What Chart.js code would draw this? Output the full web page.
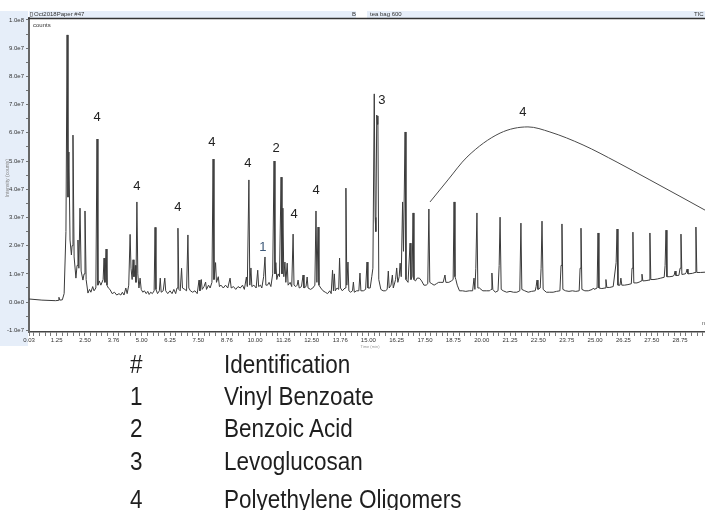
<!DOCTYPE html>
<html>
<head>
<meta charset="utf-8">
<script src="https://cdn.jsdelivr.net/npm/chart.js@4.4.1/dist/chart.umd.min.js"></script>
<style>
  html, body { margin: 0; padding: 0; background: #fff; }
  body { width: 705px; height: 510px; position: relative; overflow: hidden; }
  #tic { position: absolute; left: 0; top: 0; }
  .cell { position: absolute; font-family: "Liberation Sans", Arial, sans-serif; font-size: 22.5px; line-height: 1;
          color: #1e1e1e; white-space: nowrap; transform: scaleY(1.12); transform-origin: left center; }
</style>
</head>
<body>
<canvas id="tic" width="705" height="352"></canvas>
<div id="ids"></div>
<script>

// TIC trace: [retention time (min), intensity (x1e7 counts)]
const trace = [
  [0.03,0.11],[0.60,0.07],[1.20,0.05],[1.32,0.06],[1.35,0.17],[1.39,0.07],[1.50,0.08],[1.58,0.30],
  [1.66,2.50],[1.71,9.47],[1.75,3.72],[1.79,5.32],[1.84,2.20],[1.90,1.67],[1.93,2.00],[1.97,5.92],
  [2.02,1.60],[2.10,0.85],[2.15,1.30],[2.19,2.20],[2.23,1.20],[2.28,3.33],[2.33,1.10],[2.41,0.78],
  [2.46,1.00],[2.50,3.23],[2.55,0.80],[2.63,0.32],[2.70,0.45],[2.76,0.35],[2.84,0.55],[2.90,0.40],
  [2.98,0.50],[3.03,5.78],[3.07,0.60],[3.13,0.75],[3.20,0.60],[3.30,0.80],[3.34,1.56],[3.38,0.70],
  [3.43,1.88],[3.47,0.60],[3.53,0.50],[3.60,0.45],[3.70,0.30],[3.80,0.35],[3.90,0.25],[4.00,0.30],
  [4.08,0.25],[4.15,0.35],[4.22,0.25],[4.30,0.50],[4.36,0.30],[4.43,0.60],[4.49,2.40],[4.53,1.20],
  [4.58,0.80],[4.62,1.50],[4.66,0.90],[4.72,1.30],[4.75,0.70],[4.79,3.55],[4.83,1.00],[4.88,0.50],
  [4.93,0.85],[4.98,0.45],[5.05,0.35],[5.12,0.40],[5.20,0.30],[5.27,0.38],[5.33,0.27],[5.40,0.35],
  [5.47,0.30],[5.55,0.40],[5.59,2.65],[5.63,0.45],[5.70,0.30],[5.78,0.40],[5.82,0.85],[5.86,0.35],
  [5.95,0.40],[6.02,0.85],[6.06,0.40],[6.15,0.30],[6.25,0.40],[6.34,0.30],[6.42,0.45],[6.50,0.30],
  [6.56,0.50],[6.60,2.62],[6.64,0.45],[6.70,0.40],[6.76,1.20],[6.80,0.50],[6.90,0.45],[6.98,0.40],
  [7.04,2.38],[7.08,0.50],[7.15,0.40],[7.25,0.35],[7.35,0.40],[7.45,0.30],[7.53,0.78],[7.57,0.40],
  [7.63,0.80],[7.67,0.45],[7.75,0.55],[7.82,0.71],[7.86,0.45],[7.95,0.60],[8.02,0.50],[8.10,0.70],
  [8.15,5.07],[8.19,0.80],[8.26,1.40],[8.30,0.70],[8.38,0.90],[8.43,0.55],[8.50,0.60],[8.60,0.50],
  [8.70,0.60],[8.80,0.50],[8.90,0.85],[8.95,0.50],[9.05,0.55],[9.15,0.45],[9.25,0.55],[9.35,0.50],
  [9.45,0.60],[9.53,0.45],[9.62,0.89],[9.66,0.55],[9.73,4.33],[9.77,0.60],[9.82,1.21],[9.86,0.55],
  [9.95,0.60],[10.05,0.50],[10.12,1.13],[10.16,0.55],[10.24,0.60],[10.30,0.50],[10.38,0.90],[10.44,1.60],
  [10.48,0.60],[10.55,0.60],[10.62,0.70],[10.70,0.55],[10.78,1.00],[10.84,5.00],[10.88,1.00],[10.92,1.40],
  [10.96,0.80],[11.02,1.00],[11.08,0.90],[11.15,4.43],[11.19,1.00],[11.23,3.33],[11.27,0.90],[11.32,1.42],
  [11.36,0.70],[11.42,1.38],[11.46,0.60],[11.55,0.70],[11.62,0.55],[11.68,2.41],[11.72,0.60],[11.80,0.55],
  [11.86,0.60],[11.90,0.78],[11.95,0.50],[12.05,0.55],[12.12,0.96],[12.16,0.50],[12.25,0.55],[12.30,0.89],
  [12.34,0.50],[12.45,0.45],[12.55,0.50],[12.64,0.60],[12.69,3.23],[12.73,0.70],[12.78,2.66],[12.82,0.60],
  [12.90,0.50],[13.00,0.40],[13.10,0.35],[13.20,0.30],[13.30,0.40],[13.36,0.30],[13.42,1.13],[13.46,0.40],
  [13.50,1.00],[13.54,0.40],[13.62,0.50],[13.69,0.45],[13.73,1.56],[13.77,0.50],[13.85,0.40],[13.97,0.50],
  [14.01,4.04],[14.05,0.60],[14.10,1.42],[14.14,0.40],[14.22,0.35],[14.30,0.40],[14.34,0.71],[14.38,0.35],
  [14.48,0.40],[14.58,0.40],[14.63,1.03],[14.67,0.40],[14.78,0.40],[14.88,0.45],[14.94,1.42],[14.98,0.50],
  [15.08,0.50],[15.15,0.90],[15.20,1.20],[15.26,7.38],[15.30,3.00],[15.33,2.50],[15.37,6.63],[15.40,6.30],
  [15.42,6.60],[15.46,0.80],[15.55,0.45],[15.65,0.40],[15.75,0.40],[15.83,0.45],[15.88,1.10],[15.92,0.50],
  [16.00,0.60],[16.06,0.96],[16.10,0.50],[16.20,0.80],[16.25,1.21],[16.30,0.70],[16.36,0.90],[16.40,1.38],
  [16.45,0.90],[16.51,3.55],[16.55,1.80],[16.62,6.03],[16.66,0.80],[16.75,0.70],[16.84,2.09],[16.88,0.80],
  [16.93,0.90],[16.97,3.16],[17.01,0.80],[17.08,0.75],[17.15,0.85],[17.25,0.85],[17.35,0.75],[17.45,0.60],
  [17.55,0.60],[17.62,0.65],[17.67,3.30],[17.71,0.70],[17.80,0.65],[17.90,0.60],[18.00,0.65],[18.10,0.70],
  [18.20,0.70],[18.30,0.70],[18.38,0.96],[18.42,0.70],[18.55,0.70],[18.66,0.75],[18.74,0.80],[18.78,3.55],
  [18.82,0.90],[18.86,0.80],[18.92,0.60],[19.02,0.40],[19.15,0.40],[19.30,0.38],[19.45,0.40],[19.60,0.40],
  [19.66,0.85],[19.70,0.45],[19.74,1.20],[19.79,3.16],[19.83,0.50],[19.90,0.50],[19.97,0.45],[20.05,0.40],
  [20.20,0.40],[20.35,0.40],[20.41,0.45],[20.45,1.03],[20.49,0.45],[20.60,0.35],[20.72,0.40],[20.77,1.30],
  [20.81,3.01],[20.86,0.45],[20.95,0.40],[21.10,0.35],[21.25,0.38],[21.40,0.35],[21.55,0.35],[21.68,0.40],
  [21.73,2.80],[21.77,0.45],[21.90,0.40],[22.05,0.35],[22.20,0.38],[22.36,0.40],[22.40,0.55],[22.44,0.78],
  [22.48,0.45],[22.58,0.50],[22.62,1.20],[22.66,2.87],[22.71,0.45],[22.85,0.35],[23.00,0.35],[23.15,0.35],
  [23.30,0.38],[23.45,0.40],[23.50,1.30],[23.54,2.77],[23.58,0.45],[23.70,0.40],[23.85,0.38],[24.00,0.40],
  [24.15,0.38],[24.30,0.40],[24.34,1.20],[24.38,2.62],[24.42,0.45],[24.55,0.40],[24.70,0.40],[24.88,0.45],
  [24.93,0.50],[24.97,0.45],[25.09,0.50],[25.13,2.45],[25.17,0.50],[25.30,0.48],[25.44,0.50],[25.48,0.80],
  [25.52,0.52],[25.65,0.52],[25.80,0.55],[25.93,1.40],[25.97,2.59],[26.01,0.60],[26.10,0.60],[26.14,0.85],
  [26.18,0.60],[26.30,0.60],[26.45,0.62],[26.60,0.65],[26.63,1.20],[26.67,2.48],[26.71,0.68],[26.85,0.68],
  [26.98,0.72],[27.03,0.75],[27.07,0.99],[27.11,0.75],[27.25,0.76],[27.38,0.78],[27.42,2.45],[27.46,0.80],
  [27.60,0.80],[27.75,0.82],[27.90,0.85],[28.05,0.88],[28.09,1.30],[28.13,2.55],[28.17,0.90],[28.30,0.90],
  [28.45,0.92],[28.49,0.96],[28.53,1.10],[28.57,0.94],[28.70,0.95],[28.75,1.20],[28.79,2.41],[28.83,0.98],
  [28.98,1.00],[29.02,1.05],[29.06,1.17],[29.10,1.00],[29.30,1.02],[29.41,1.05],[29.45,2.66],[29.49,1.05],
  [29.65,1.05],[29.85,1.06]
];

// hand drawn oligomer envelope over the late peaks
const envelope = [
  [17.72,3.55],[18.51,4.33],[19.35,5.14],[20.81,5.99],[22.04,6.21],[23.01,6.03],
  [24.47,5.57],[25.97,4.96],[27.42,4.33],[28.88,3.69],[29.85,3.26]
];

// peak tags written on the chromatogram
const tagText = ['4', '4', '4', '4', '4', '2', '1', '4', '4', '3', '4'];
const tagRt   = [3.03, 4.79, 6.60, 8.10, 9.69, 10.93, 10.35, 11.72, 12.69, 15.60, 21.82];
const tagTic  = [6.56, 4.11, 3.37, 5.67, 4.93, 5.43, 1.95, 3.09, 3.97, 7.16, 6.74];

const xTickValues = [0.03, 1.25, 2.50, 3.76, 5.00, 6.25, 7.50, 8.76, 10.00, 11.26, 12.50, 13.76,
                     15.00, 16.25, 17.50, 18.75, 20.00, 21.25, 22.50, 23.75, 25.00, 26.25, 27.50, 28.75];
const xTickLabels = ['0.03', '1.25', '2.50', '3.76', '5.00', '6.25', '7.50', '8.76', '10.00', '11.26', '12.50', '13.76',
                     '15.00', '16.25', '17.50', '18.75', '20.00', '21.25', '22.50', '23.75', '25.00', '26.25', '27.50', '28.75'];
const yTickValues = [-1, 0, 1, 2, 3, 4, 5, 6, 7, 8, 9, 10];
const yTickLabels = ['-1.0e7', '0.0e0', '1.0e7', '2.0e7', '3.0e7', '4.0e7', '5.0e7', '6.0e7', '7.0e7', '8.0e7', '9.0e7', '1.0e8'];

// identification table
const idNums  = ['#', '1', '2', '3', '4'];
const idNames = ['Identification', 'Vinyl Benzoate', 'Benzoic Acid', 'Levoglucosan', 'Polyethylene Oligomers'];
const idRowTop = [354, 386, 418, 451, 489];

const tiny = '"Liberation Sans Narrow", "Liberation Sans", Arial, sans-serif';

var ids = document.getElementById('ids');
idNums.forEach(function (n, i) {
    var a = document.createElement('div');
    a.className = 'cell';
    a.style.left = '130px';
    a.style.top = idRowTop[i] + 'px';
    a.textContent = n;
    ids.appendChild(a);
    var b = document.createElement('div');
    b.className = 'cell';
    b.style.left = '224px';
    b.style.top = idRowTop[i] + 'px';
    b.textContent = idNames[i];
    ids.appendChild(b);
});

function withMinor(major, lo, hi, step) {
    var all = major.slice();
    for (var k = Math.ceil(lo / step); k * step < hi; k++) {
        var v = k * step;
        if (!major.some(function (m) { return Math.abs(m - v) < step / 3; })) all.push(v);
    }
    return all.sort(function (a, b) { return a - b; }).map(function (v) { return { value: v }; });
}

// panel decoration: blue strips, header text, frame line
const frame = {
    id: 'frame',
    beforeDraw(chart) {
        var ctx = chart.ctx, a = chart.chartArea;
        ctx.save();
        ctx.fillStyle = '#e6eef9';
        ctx.fillRect(0, 11, a.left - 1, 335);
        ctx.fillRect(a.left, 11, chart.width - a.left, a.top - 11);
        ctx.fillStyle = '#fff';
        ctx.fillRect(356, 11, 11, 7);
        ctx.font = '6px ' + tiny;
        ctx.fillStyle = '#333';
        ctx.textBaseline = 'middle';
        ctx.fillText('Oct2018Paper #47', 34, 14.5);
        ctx.fillText('B', 352, 14.5);
        ctx.fillText('tea bag 600', 370, 14.5);
        ctx.fillText('TIC T', 694, 14.5);
        ctx.strokeStyle = '#666';
        ctx.lineWidth = 0.6;
        ctx.strokeRect(30.5, 12.5, 2, 4);
        ctx.restore();
    },
    afterDraw(chart) {
        var ctx = chart.ctx, a = chart.chartArea;
        ctx.save();
        ctx.strokeStyle = '#333';
        ctx.lineWidth = 1.5;
        ctx.beginPath();
        ctx.moveTo(a.left - 1, a.top + 0.5);
        ctx.lineTo(chart.width, a.top + 0.5);
        ctx.stroke();
        ctx.fillStyle = '#333';
        ctx.font = '6px ' + tiny;
        ctx.textBaseline = 'middle';
        ctx.fillText('counts', 33, 25);
        ctx.fillStyle = '#555';
        ctx.fillText('m', 702, 323);
        ctx.fillStyle = '#999';
        ctx.font = '4px ' + tiny;
        ctx.textAlign = 'center';
        ctx.fillText('Time (min)', 370, 347);
        ctx.translate(8, 178);
        ctx.rotate(-Math.PI / 2);
        ctx.font = '5px ' + tiny;
        ctx.fillStyle = '#888';
        ctx.fillText('Intensity (counts)', 0, 0);
        ctx.restore();
    }
};

const tags = {
    id: 'tags',
    afterDatasetsDraw(chart) {
        var ctx = chart.ctx, sx = chart.scales.x, sy = chart.scales.y;
        ctx.save();
        ctx.font = '13px "Liberation Sans", Arial, sans-serif';
        ctx.textAlign = 'center';
        ctx.textBaseline = 'middle';
        tagText.forEach(function (t, i) {
            ctx.fillStyle = t === '1' ? '#3d5878' : '#222';
            ctx.fillText(t, sx.getPixelForValue(tagRt[i]), sy.getPixelForValue(tagTic[i]));
        });
        ctx.restore();
    }
};

var ctx = document.getElementById('tic').getContext('2d');
var ticChart = new Chart(ctx, {
    type: 'line',
    data: {
        datasets: [{
            label: 'TIC',
            data: trace.map(function (p) { return { x: p[0], y: p[1] }; }),
            borderColor: '#3a3a3a',
            borderWidth: 1,
            pointRadius: 0,
            tension: 0
        }, {
            label: 'envelope',
            data: envelope.map(function (p) { return { x: p[0], y: p[1] }; }),
            borderColor: '#4a4a4a',
            borderWidth: 1,
            pointRadius: 0,
            cubicInterpolationMode: 'monotone'
        }]
    },
    options: {
        responsive: false,
        animation: false,
        events: [],
        layout: { padding: { top: 18, right: 0, bottom: 0, left: 0 } },
        plugins: { legend: { display: false }, tooltip: { enabled: false } },
        scales: {
            x: {
                type: 'linear',
                min: 0.03,
                max: 29.85,
                afterBuildTicks: function (s) { s.ticks = withMinor(xTickValues, 0.25, 29.85, 0.25); },
                afterFit: function (s) { s.height = 20; },
                grid: { drawOnChartArea: false, drawTicks: true, tickLength: 4, tickColor: '#555', tickWidth: 0.8 },
                border: { display: true, color: '#444', width: 1.5 },
                ticks: {
                    autoSkip: false, maxRotation: 0, padding: 1, color: '#333',
                    font: { size: 6, family: tiny },
                    callback: function (v) { var i = xTickValues.indexOf(v); return i >= 0 ? xTickLabels[i] : ''; }
                }
            },
            y: {
                type: 'linear',
                min: -1.06,
                max: 10.07,
                afterBuildTicks: function (s) { s.ticks = withMinor(yTickValues, -1, 10.07, 0.5); },
                afterFit: function (s) { s.width = 29; },
                grid: { drawOnChartArea: false, drawTicks: true, tickLength: 3, tickColor: '#555', tickWidth: 0.8 },
                border: { display: true, color: '#666', width: 2 },
                ticks: {
                    autoSkip: false, padding: 2, color: '#333',
                    font: { size: 6, family: tiny },
                    callback: function (v) { var i = yTickValues.indexOf(v); return i >= 0 ? yTickLabels[i] : ''; }
                }
            }
        }
    },
    plugins: [frame, tags]
});
</script>
</body>
</html>
